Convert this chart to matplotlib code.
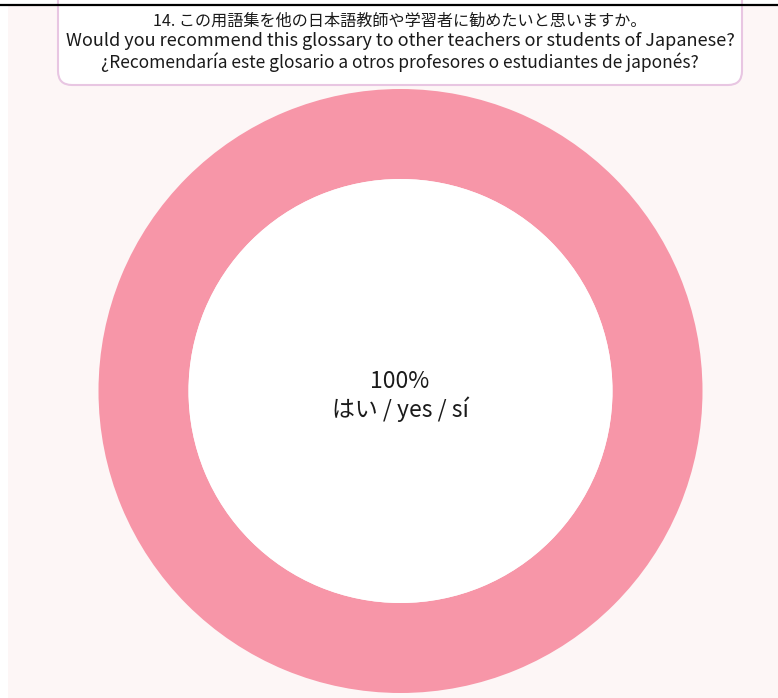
import matplotlib
matplotlib.use('Agg')
import matplotlib.pyplot as plt
from matplotlib.patches import FancyBboxPatch, Rectangle

# Datos de la pregunta 14
respuestas = ['はい / yes / sí']
porcentajes = [100]
pregunta = ['14. この用語集を他の日本語教師や学習者に勧めたいと思いますか。',
            'Would you recommend this glossary to other teachers or students of Japanese?',
            '¿Recomendaría este glosario a otros profesores o estudiantes de japonés?']

plt.rcParams['font.family'] = ['Noto Sans CJK JP', 'DejaVu Sans']

colorAnillo = '#F796A8'
colorFondo = '#FDF6F6'
centro = (400.5, 391)

fig = plt.figure(figsize=(7.78, 6.98), dpi=100)
fig.patch.set_facecolor('white')
ax = fig.add_axes([0, 0, 1, 1])

# Grafico de dona
ax.pie(porcentajes, colors=[colorAnillo], radius=302, center=centro,
       startangle=90, counterclock=False,
       wedgeprops={'width': 90, 'linewidth': 0})
ax.pie([1], colors=['white'], radius=212, center=centro,
       wedgeprops={'linewidth': 0})

ax.set_xlim(0, 778)
ax.set_ylim(698, 0)
ax.set_aspect('equal')
ax.axis('off')

# Fondo y caja de la pregunta
ax.add_patch(Rectangle((8, 5), 770, 700, facecolor=colorFondo, edgecolor='none', zorder=-5))
ax.add_patch(FancyBboxPatch((58, -20), 684, 105,
                            boxstyle='round,pad=0,rounding_size=14',
                            facecolor='white', edgecolor='#E8C6E2', linewidth=1.5, zorder=3))
ax.plot([0, 778], [5, 5], color='black', linewidth=1.6, zorder=4)

tamanos = [11.6, 13.0, 12.5]
for i, linea in enumerate(pregunta):
    ax.text(400, 21 + i * 20.5, linea, ha='center', va='center', fontsize=tamanos[i],
            color='#1a1a1a', zorder=5)

# Texto central
ax.text(400, 382, f'{porcentajes[0]}%', ha='center', va='center', fontsize=16.5, color='#1a1a1a')
ax.text(400, 409, respuestas[0], ha='center', va='center', fontsize=16.5, color='#1a1a1a')

fig.savefig('out.png', dpi=100)
